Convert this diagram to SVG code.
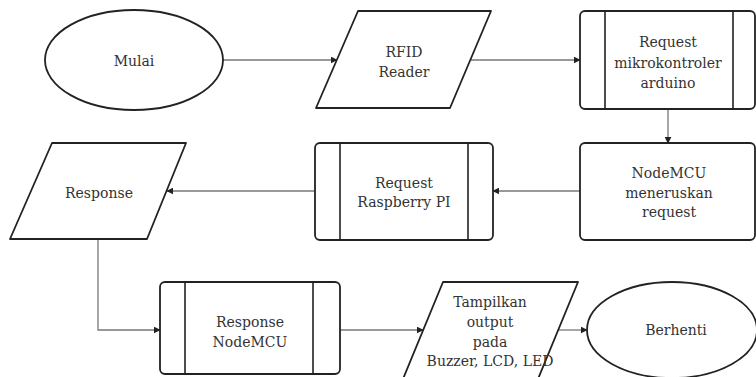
<svg xmlns="http://www.w3.org/2000/svg" width="756" height="377" viewBox="0 0 756 377">
<defs>
<style>
.s{fill:#fff;stroke:#222;stroke-width:1.8}
.in{stroke:#222;stroke-width:1.6;fill:none}
.t{font-family:'DejaVu Serif',serif;font-size:14px;fill:#333;text-anchor:middle}
.c{fill:none;stroke:#777;stroke-width:1.3}
</style>
<marker id="a" viewBox="0 0 10 10" refX="9" refY="5" markerWidth="7" markerHeight="7" markerUnits="userSpaceOnUse" orient="auto">
<path d="M0,0 L10,5 L0,10 z" fill="#222"/>
</marker>
</defs>
<rect width="756" height="377" fill="#fff"/>
<g id="connectors">
<path class="c" d="M223,60 H337" marker-end="url(#a)"/>
<path class="c" d="M471,60 H580" marker-end="url(#a)"/>
<path class="c" d="M668,109 V143" marker-end="url(#a)"/>
<path class="c" d="M580,191 H493" marker-end="url(#a)"/>
<path class="c" d="M315,191 H167" marker-end="url(#a)"/>
<path class="c" d="M98,239 V330 H160" marker-end="url(#a)"/>
<path class="c" d="M340,330 H423" marker-end="url(#a)"/>
<path class="c" d="M558,330 H587" marker-end="url(#a)"/>
</g>
<g id="mulai">
<ellipse class="s" cx="134" cy="60" rx="89" ry="50"/>
<text class="t" x="134" y="66">Mulai</text>
</g>
<g id="rfid">
<path class="s" d="M358,11 H491 L450,108 H316 Z" stroke-linejoin="round"/>
<text class="t" x="404" y="57">RFID</text>
<text class="t" x="404" y="77">Reader</text>
</g>
<g id="request-arduino">
<rect class="s" x="580" y="11" width="175" height="98" rx="5"/>
<path class="in" d="M605,11 V109 M733,11 V109"/>
<text class="t" x="668" y="47">Request</text>
<text class="t" x="668" y="68">mikrokontroler</text>
<text class="t" x="668" y="88">arduino</text>
</g>
<g id="nodemcu">
<rect class="s" x="580" y="143" width="175" height="97" rx="5"/>
<text class="t" x="669" y="178">NodeMCU</text>
<text class="t" x="669" y="198">meneruskan</text>
<text class="t" x="669" y="217">request</text>
</g>
<g id="request-raspberry">
<rect class="s" x="315" y="143" width="178" height="97" rx="5"/>
<path class="in" d="M340,143 V240 M468,143 V240"/>
<text class="t" x="404" y="188">Request</text>
<text class="t" x="404" y="207">Raspberry PI</text>
</g>
<g id="response">
<path class="s" d="M52,143 H186 L147,239 H10 Z" stroke-linejoin="round"/>
<text class="t" x="99" y="198">Response</text>
</g>
<g id="response-nodemcu">
<rect class="s" x="160" y="282" width="180" height="92" rx="5"/>
<path class="in" d="M185,282 V374 M313,282 V374"/>
<text class="t" x="250" y="327">Response</text>
<text class="t" x="250" y="347">NodeMCU</text>
</g>
<g id="tampilkan">
<path class="s" d="M443,282 H578 L538,379 H403 Z" stroke-linejoin="round"/>
<text class="t" x="490" y="307">Tampilkan</text>
<text class="t" x="490" y="327">output</text>
<text class="t" x="490" y="347">pada</text>
<text class="t" x="490" y="366">Buzzer, LCD, LED</text>
</g>
<g id="berhenti">
<ellipse class="s" cx="672" cy="330" rx="85" ry="48"/>
<text class="t" x="676" y="335">Berhenti</text>
</g>
</svg>
